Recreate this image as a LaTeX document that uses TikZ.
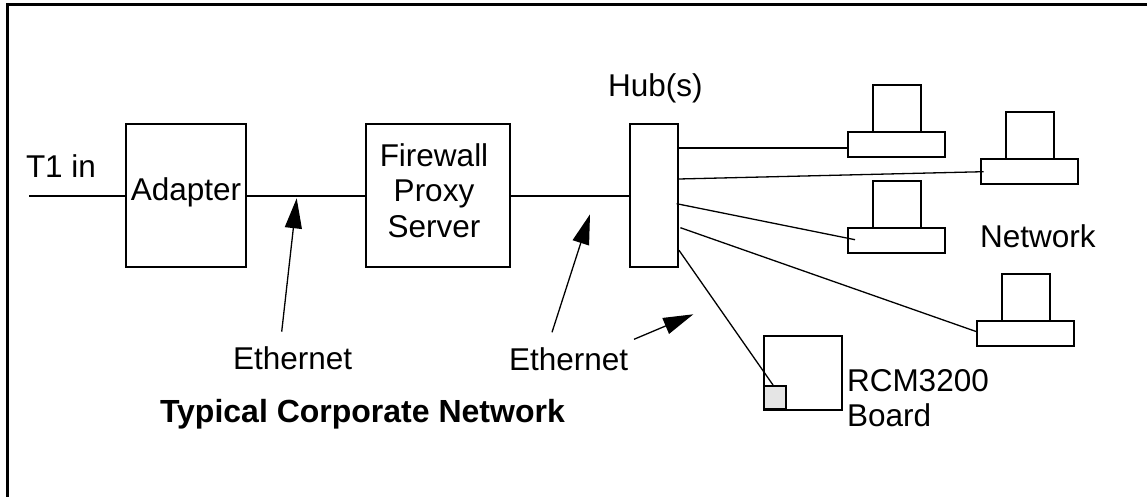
\documentclass[tikz,border=0pt]{standalone}
\usepackage{fontspec}
\setmainfont{Liberation Sans}
\usetikzlibrary{arrows.meta,positioning}
\definecolor{portgray}{HTML}{E5E5E5}
\tikzset{
  boxnode/.style={draw,line width=2pt,inner sep=0pt,outer sep=0pt,font=\fontsize{31.5}{35.5}\selectfont},
  pcbase/.style={boxnode,minimum width=96.5pt,minimum height=25pt},
  pctop/.style={boxnode,minimum width=48pt,minimum height=47.5pt},
  caption/.style={inner sep=0pt,outer sep=0pt,anchor=base west,font=\fontsize{31.5}{35.5}\selectfont},
  wire/.style={line width=2pt},
  thinwire/.style={line width=1.3pt},
  callout/.style={line width=1.3pt,-{Triangle[length=30pt,width=17pt]}}
}
\begin{document}
\begin{tikzpicture}[x=1pt,y=-1pt]
\useasboundingbox (0,0) rectangle (1147,497);
\draw [line width=3pt] (7,497) -- (7,4.5) -- (1147,4.5);
% main boxes
\node [boxnode,minimum width=120pt,minimum height=143pt,text height=16pt,text depth=7pt] (adapter) at (186,195.5) {Adapter};
\node [boxnode,minimum width=144pt,minimum height=143pt] (firewall) at (438,195.5) {};
\node [caption,anchor=center,align=center] (firewalltext) at (434,190.5) {Firewall\\Proxy\\Server};
\node [boxnode,minimum width=48pt,minimum height=143pt] (hub) at (654,195.5) {};
\coordinate (t1end) at (29,195.5);
\draw [wire] (t1end) -- (adapter);
\draw [wire] (adapter) -- (firewall);
\draw [wire] (firewall) -- (hub);
% network stations
\foreach \name/\x/\y in {pca/896.7/144.7,pcb/1029.7/171.7,pcc/896.7/240.7,pcd/1025.7/333.7} {
  \node [pcbase] (\name) at (\x,\y) {};
  \node [pctop,above=0pt of \name] (\name top) {};
}
% board
\node [boxnode,minimum width=78pt,minimum height=74pt] (board) at (802.5,373) {};
\node [boxnode,fill=portgray,minimum width=22pt,minimum height=23pt,anchor=south west] (port) at ([yshift=1.5pt]board.south west) {};
% hub lines
\coordinate (huba) at (678,148);
\coordinate (hubb) at (678.7,179);
\coordinate (hubc) at (676.6,203.7);
\coordinate (hubd) at (680.4,227.7);
\coordinate (hube) at (679,250.3);
\coordinate (pcbend) at (983.6,171.7);
\coordinate (pccend) at (855,239.7);
\coordinate (pcdend) at (976.6,331.7);
\coordinate (portend) at (773,385);
\draw [wire] (huba) -- (huba -| pca.west);
\draw [thinwire] (hubb) -- (pcbend);
\draw [thinwire] (hubc) -- (pccend);
\draw [thinwire] (hubd) -- (pcdend);
\draw [thinwire] (hube) -- (portend);
% labels
\node [caption] (t1label) at (26,177) {T1 in};
\node [caption] (hublabel) at (608,97) {Hub(s)};
\node [caption] (networklabel) at (980,247.7) {Network};
\node [caption] (rcmlabel) at (847,391) {RCM3200};
\node [caption] (boardlabel) at (847,426) {Board};
\node [caption] (etherleft) at (233,369.5) {Ethernet};
\node [caption] (etherright) at (509,370.5) {Ethernet};
\node [caption,font=\fontsize{32}{36}\selectfont\bfseries] (title) at (160,422) {Typical Corporate Network};
% ethernet arrows
\coordinate (taila) at (281.7,331.7);
\coordinate (tipa) at (296.7,198.3);
\coordinate (tailb) at (552,332.3);
\coordinate (tipb) at (590,214.3);
\coordinate (tailc) at (634,339.3);
\coordinate (tipc) at (693.3,314.3);
\draw [callout] (taila) -- (tipa);
\draw [callout] (tailb) -- (tipb);
\draw [callout] (tailc) -- (tipc);
\end{tikzpicture}
\end{document}
